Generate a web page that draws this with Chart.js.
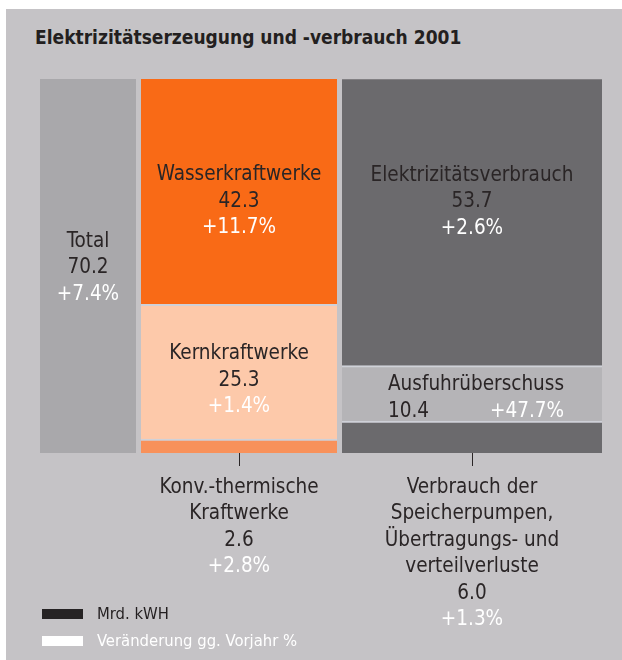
<!DOCTYPE html>
<html>
<head>
<meta charset="utf-8">
<script src="https://cdn.jsdelivr.net/npm/chart.js@4.4.1/dist/chart.umd.min.js"></script>
<style>
  html, body { margin: 0; padding: 0; background: #ffffff; }
  body { width: 622px; height: 660px; position: relative; overflow: hidden; }
  #panel { position: absolute; left: 6px; top: 9px; right: 0; bottom: 0; background: #c5c3c6; }
  #title { position: absolute; left: 35px; top: 26px; margin: 0;
           font: bold 19px 'DejaVu Sans Condensed', 'Liberation Sans Narrow', sans-serif;
           color: #231f20; white-space: nowrap; }
  canvas.col { position: absolute; top: 0; }
  .lg { position: absolute; left: 42px; height: 20px; font: 16.5px 'DejaVu Sans Condensed', 'Liberation Sans Narrow', sans-serif; white-space: nowrap; }
  .lg .sw { position: absolute; left: 0; top: 5px; width: 41px; height: 10px; }
  .lg .tx { position: absolute; left: 55px; top: 0; line-height: 20px; }
</style>
</head>
<body>
<div id="panel"></div>
<h1 id="title">Elektrizitätserzeugung und -verbrauch 2001</h1>
<canvas id="cTotal" class="col"></canvas>
<canvas id="cGen" class="col"></canvas>
<canvas id="cUse" class="col"></canvas>
<div class="lg" style="top:604px"><div class="sw" style="background:#262324"></div><div class="tx" style="color:#231f20">Mrd. kWH</div></div>
<div class="lg" style="top:631px"><div class="sw" style="background:#ffffff"></div><div class="tx" style="color:#ffffff">Veränderung gg. Vorjahr %</div></div>
<script>
// ---------- data (values in Mrd. kWh, change vs. previous year) ----------
const totalNames   = [['Total']];
const totalValues  = [70.2];
const totalChanges = ['+7.4%'];

// generation, listed top segment first
const genNames   = [['Wasserkraftwerke'], ['Kernkraftwerke'], ['Konv.-thermische', 'Kraftwerke']];
const genValues  = [42.3, 25.3, 2.6];
const genChanges = ['+11.7%', '+1.4%', '+2.8%'];

// use, listed top segment first
const useNames   = [['Elektrizitätsverbrauch'], ['Ausfuhrüberschuss'],
                    ['Verbrauch der', 'Speicherpumpen,', 'Übertragungs- und', 'verteilverluste']];
const useValues  = [53.7, 10.4, 6.0];
const useChanges = ['+2.6%', '+47.7%', '+1.3%'];

const yMaxValue = 70.2;

// ---------- styles ----------
const FONT_FAMILY = "'DejaVu Sans Condensed', 'Liberation Sans Narrow', sans-serif";
const FONT_SIZE = 20.5;
const LINE_H = 26.5;
const DARK = '#2a2526';
const WHITE = '#ffffff';
const SEP = '#cfd1d8';
const PAD_TOP = 79, PAD_BOTTOM = 207, CANVAS_H = 660;

const columnStyles = {
  cTotal: { left: 40, width: 96, colors: ['#a9a8ab'],
            place: [{ mode: 'inside', dy: 0 }] },
  cGen:   { left: 141, width: 196, colors: ['#f96a16', '#fdc9aa', '#f8915a'],
            place: [{ mode: 'inside', dy: 7.8 }, { mode: 'inside', dy: 6.3 }, { mode: 'below' }] },
  cUse:   { left: 342, width: 260, colors: ['#6b6a6d', '#b5b4b7', '#6b6a6d'],
            place: [{ mode: 'inside', dy: -22.8 }, { mode: 'split', dy: 2.9 }, { mode: 'below' }] }
};

const segLabels = {
  id: 'segLabels',
  afterDatasetsDraw(chart) {
    const ctx = chart.ctx;
    ctx.save();
    ctx.font = FONT_SIZE + 'px ' + FONT_FAMILY;
    ctx.textBaseline = 'alphabetic';
    const capHalf = FONT_SIZE * 0.365;
    chart.data.datasets.forEach((ds, di) => {
      const el = chart.getDatasetMeta(di).data[0];
      if (!el) return;
      const info = ds.info;
      const cx = el.x;
      const top = Math.min(el.y, el.base), bottom = Math.max(el.y, el.base);
      const valueText = info.value.toFixed(1);
      if (info.place.mode === 'inside') {
        const lines = info.names.map(t => [t, DARK]).concat([[valueText, DARK], [info.change, WHITE]]);
        const cy = (top + bottom) / 2 + info.place.dy;
        ctx.textAlign = 'center';
        lines.forEach((ln, i) => {
          ctx.fillStyle = ln[1];
          ctx.fillText(ln[0], cx, cy + (i - (lines.length - 1) / 2) * LINE_H + capHalf);
        });
      } else if (info.place.mode === 'split') {
        const name = info.names[0];
        const cy = (top + bottom) / 2 + info.place.dy;
        const w = ctx.measureText(name).width;
        const nx = cx + 4;
        const b1 = cy - LINE_H / 2 + capHalf, b2 = cy + LINE_H / 2 + capHalf;
        ctx.fillStyle = DARK; ctx.textAlign = 'center';
        ctx.fillText(name, nx, b1);
        ctx.textAlign = 'left';
        ctx.fillText(valueText, nx - w / 2, b2);
        ctx.fillStyle = WHITE; ctx.textAlign = 'right';
        ctx.fillText(info.change, nx + w / 2, b2);
      } else if (info.place.mode === 'below') {
        ctx.strokeStyle = '#2a2526';
        ctx.lineWidth = 1;
        ctx.beginPath();
        ctx.moveTo(Math.round(cx) + 0.5, bottom);
        ctx.lineTo(Math.round(cx) + 0.5, bottom + 13);
        ctx.stroke();
        const lines = info.names.map(t => [t, DARK]).concat([[valueText, DARK], [info.change, WHITE]]);
        ctx.textAlign = 'center';
        lines.forEach((ln, i) => {
          ctx.fillStyle = ln[1];
          ctx.fillText(ln[0], cx, bottom + 40 + i * 26.4);
        });
      }
    });
    ctx.restore();
  }
};

function makeColumn(id, names, values, changes) {
  const st = columnStyles[id];
  const cv = document.getElementById(id);
  cv.width = st.width; cv.height = CANVAS_H;
  cv.style.left = st.left + 'px';
  cv.style.width = st.width + 'px'; cv.style.height = CANVAS_H + 'px';
  // Chart.js stacks the first dataset at the bottom, so reverse (data is listed top first)
  const order = values.map((_, i) => i).reverse();
  const datasets = order.map(i => ({
    label: names[i].join(' '),
    data: [values[i]],
    backgroundColor: st.colors[i],
    borderColor: SEP,
    borderWidth: i === 0 ? 0 : { top: 2, left: 0, right: 0, bottom: 0 },
    borderSkipped: false,
    barPercentage: 1,
    categoryPercentage: 1,
    info: { names: names[i], value: values[i], change: changes[i], place: st.place[i] }
  }));
  return new Chart(cv, {
    type: 'bar',
    data: { labels: [names[0].join(' ')], datasets },
    options: {
      responsive: false,
      animation: false,
      devicePixelRatio: 1,
      layout: { padding: { top: PAD_TOP, bottom: PAD_BOTTOM, left: 0, right: 0 } },
      plugins: { legend: { display: false }, tooltip: { enabled: false }, title: { display: false } },
      scales: {
        x: { display: false, stacked: true },
        y: { display: false, stacked: true, min: 0, max: yMaxValue }
      }
    },
    plugins: [segLabels]
  });
}

makeColumn('cTotal', totalNames, totalValues, totalChanges);
makeColumn('cGen', genNames, genValues, genChanges);
makeColumn('cUse', useNames, useValues, useChanges);
</script>
</body>
</html>
